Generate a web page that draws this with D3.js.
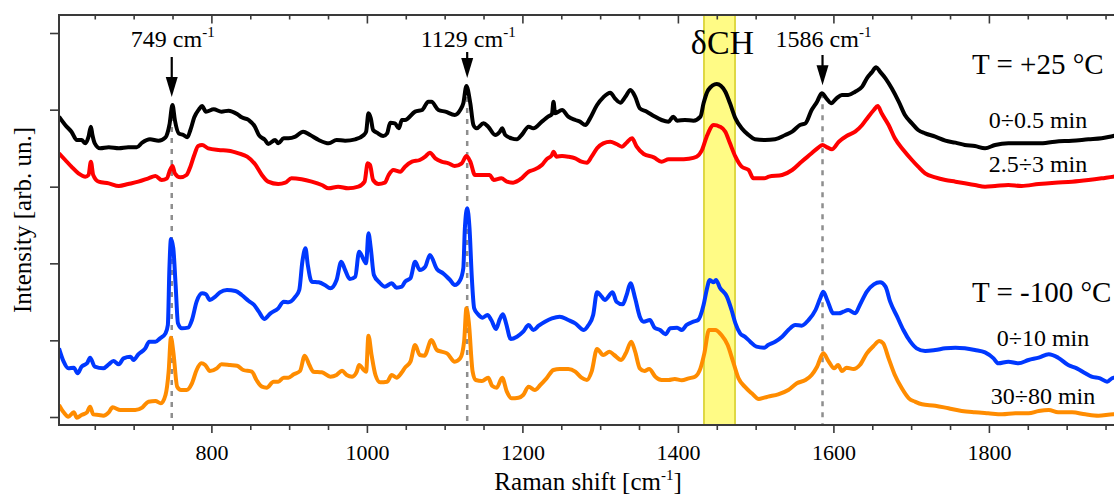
<!DOCTYPE html>
<html>
<head>
<meta charset="utf-8">
<script src="https://cdn.jsdelivr.net/npm/d3@7"></script>
<style>
  body { margin: 0; background: #fff; }
  svg { display: block; }
  text { font-family: "Liberation Serif", "Times New Roman", serif; fill: #000; }
</style>
</head>
<body>
<svg id="chart" width="1114" height="495"></svg>
<script>
// Raman spectra, [shift (cm-1), intensity (arb. units, vertically offset)]
// T = +25 °C, 0÷0.5 min
const rtEarly = [[604,901],[612,876],[620,856],[627,831],[633,831],[638,821],[642,841],[645,871],[647,846],[650,821],[657,806],[668,809],[681,806],[693,809],[704,809],[711,823],[721,833],[732,829],[741,839],[746,876],[750,936],[753,891],[758,851],[764,846],[769,839],[773,861],[778,899],[784,923],[788,933],[793,916],[803,923],[813,916],[822,919],[833,909],[839,899],[848,891],[856,871],[861,846],[869,831],[873,819],[882,831],[886,821],[893,836],[899,836],[908,841],[918,856],[927,846],[938,831],[951,821],[961,831],[972,829],[985,833],[996,846],[999,856],[1002,911],[1005,896],[1008,861],[1013,853],[1021,843],[1026,851],[1030,883],[1036,881],[1041,866],[1045,891],
  [1049,891],[1062,916],[1071,921],[1079,946],[1083,946],[1092,921],[1101,916],[1113,906],[1120,921],[1124,941],[1128,993],[1133,941],[1137,876],[1141,866],[1150,881],[1156,871],[1165,846],[1171,856],[1174,866],[1178,846],[1186,836],[1193,833],[1199,846],[1208,871],[1214,866],[1225,886],[1233,901],[1238,909],[1240,946],[1242,911],[1251,921],[1259,901],[1268,891],[1274,886],[1281,876],[1287,896],[1296,936],[1304,959],[1313,973],[1319,956],[1326,943],[1332,959],[1339,981],[1345,961],[1351,926],[1360,916],[1369,903],[1379,891],[1388,886],[1394,901],[1399,889],[1409,891],[1420,889],[1429,901],[1433,941],[1439,981],[1450,999],[1461,976],[1467,941],[1474,896],[1482,866],[1491,846],[1499,833],
  [1512,831],[1525,833],[1538,846],[1547,856],[1557,876],[1564,881],[1572,921],[1579,946],[1585,971],[1592,953],[1597,941],[1604,956],[1611,966],[1619,966],[1628,976],[1637,991],[1643,1016],[1649,1033],[1655,1049],[1660,1036],[1667,1016],[1675,986],[1684,946],[1692,906],[1701,881],[1709,861],[1718,851],[1731,841],[1744,829],[1757,823],[1769,816],[1782,813],[1795,806],[1808,816],[1825,821],[1842,821],[1864,821],[1885,826],[1907,829],[1928,833],[1945,836],[1960,843],[1965,845]];

// T = +25 °C, 2.5÷3 min
const rtLate = [[604,791],[612,771],[620,751],[629,731],[638,721],[642,726],[645,766],[648,726],[655,706],[668,701],[681,693],[693,699],[706,706],[719,716],[728,723],[736,711],[743,716],[746,736],[750,753],[753,731],[760,719],[768,726],[773,751],[778,786],[783,813],[788,816],[796,806],[809,801],[822,799],[835,791],[846,781],[856,759],[865,726],[873,706],[886,699],[895,703],[903,716],[916,713],[929,706],[942,696],[951,686],[963,691],[976,686],[989,691],[997,706],[1001,761],[1004,756],[1008,711],[1015,699],[1023,703],[1028,726],[1034,741],[1043,736],
  [1049,751],[1058,766],[1068,771],[1075,781],[1081,793],[1088,776],[1096,766],[1105,761],[1113,753],[1122,761],[1128,783],[1133,766],[1139,726],[1150,726],[1158,726],[1163,711],[1173,716],[1180,706],[1188,703],[1199,716],[1208,736],[1214,741],[1225,756],[1231,773],[1238,786],[1240,796],[1244,781],[1251,783],[1259,781],[1268,776],[1276,766],[1283,763],[1289,781],[1296,806],[1304,821],[1313,826],[1321,819],[1328,811],[1334,823],[1341,836],[1347,811],[1356,789],[1369,779],[1379,766],[1388,773],[1401,773],[1414,775],[1424,781],[1431,801],[1437,841],[1446,876],[1454,871],[1461,856],[1467,821],[1474,781],[1482,751],[1491,741],[1497,716],[1511,716],
  [1517,721],[1534,726],[1547,741],[1559,766],[1572,791],[1581,809],[1586,816],[1592,809],[1598,803],[1607,826],[1617,843],[1628,856],[1637,876],[1645,901],[1652,921],[1657,933],[1662,911],[1671,876],[1679,836],[1690,801],[1701,771],[1709,751],[1718,731],[1731,719],[1744,711],[1757,706],[1769,701],[1782,696],[1795,691],[1808,693],[1825,696],[1842,693],[1864,699],[1885,703],[1907,706],[1928,711],[1945,716],[1960,721],[1965,722]];

// T = -100 °C, 0÷10 min
const coldEarly = [[604,206],[610,166],[616,146],[623,148],[628,131],[633,151],[640,161],[644,178],[650,151],[661,146],[668,158],[674,168],[681,158],[687,176],[696,181],[700,171],[706,188],[715,206],[720,226],[728,226],[734,236],[741,251],[744,276],[746,446],[748,534],[751,506],[754,396],[757,281],[762,266],[770,268],[775,291],[781,346],[788,371],[793,368],[798,351],[805,361],[811,374],[820,381],[831,378],[839,366],[848,348],[855,336],[861,316],[868,294],[876,311],[886,326],[893,346],[899,344],[908,361],[913,381],[917,466],[921,506],[924,456],[929,406],[938,404],[946,396],[953,386],[961,411],[967,466],[972,441],[978,414],[985,421],[990,496],[996,471],[999,461],[1002,551],[1005,506],[1009,426],[1016,404],[1023,391],[1032,401],[1038,388],[1045,391],
  [1049,406],[1056,416],[1062,466],[1068,441],[1075,451],[1081,486],[1090,444],[1098,431],[1107,411],[1113,396],[1120,411],[1124,446],[1126,566],[1129,626],[1132,566],[1135,416],[1138,326],[1143,308],[1149,298],[1155,306],[1160,291],[1166,264],[1171,294],[1175,308],[1179,281],[1185,234],[1193,241],[1201,256],[1208,276],[1214,261],[1221,274],[1229,286],[1238,296],[1248,301],[1259,291],[1268,281],[1279,261],[1285,276],[1291,306],[1296,374],[1302,361],[1306,351],[1316,374],[1321,346],[1329,338],[1334,366],[1339,401],[1345,356],[1351,301],[1356,286],[1364,291],[1370,268],[1377,261],[1384,248],[1390,266],[1399,268],[1405,261],[1411,276],[1420,286],[1426,291],[1433,336],[1437,381],[1441,411],[1446,404],[1449,411],[1454,388],[1463,361],[1469,321],[1474,281],[1480,251],[1486,241],[1493,226],[1501,211],[1511,208],
  [1516,216],[1525,226],[1534,241],[1542,261],[1551,276],[1559,274],[1568,291],[1577,321],[1583,356],[1587,376],[1592,351],[1600,311],[1607,311],[1613,316],[1619,321],[1628,311],[1634,336],[1643,376],[1652,398],[1660,404],[1667,391],[1673,346],[1682,301],[1690,261],[1699,226],[1707,206],[1718,198],[1731,201],[1744,206],[1757,208],[1769,206],[1782,201],[1795,194],[1806,176],[1812,161],[1825,166],[1838,161],[1851,171],[1864,178],[1877,188],[1889,178],[1902,156],[1913,146],[1924,131],[1932,121],[1943,116],[1952,106],[1960,118],[1965,118]];

// T = -100 °C, 30÷80 min
const coldLate = [[604,36],[610,14],[616,1],[623,14],[627,-2],[633,6],[640,14],[644,31],[648,8],[655,6],[661,4],[668,14],[673,29],[683,21],[691,21],[702,21],[711,28],[719,46],[728,48],[735,41],[741,66],[745,136],[748,238],[751,196],[756,91],[761,81],[768,81],[775,101],[781,141],[787,161],[792,156],[798,138],[807,146],[813,158],[824,156],[833,154],[841,141],[852,136],[858,111],[865,91],[871,88],[880,106],[886,106],[893,118],[899,118],[906,128],[914,138],[920,184],[926,156],[931,136],[942,134],[953,121],[961,126],[968,139],[974,126],[981,121],[987,136],[990,156],[996,141],[999,136],[1002,244],[1006,186],[1011,126],[1017,104],[1026,106],[1032,126],[1038,118],[1045,134],
  [1049,148],[1056,166],[1062,216],[1068,186],[1074,184],[1083,231],[1090,201],[1096,196],[1103,191],[1113,166],[1120,176],[1125,226],[1128,326],[1131,286],[1136,136],[1140,111],[1148,108],[1156,118],[1161,94],[1167,88],[1174,118],[1180,76],[1186,56],[1195,58],[1201,66],[1208,91],[1216,81],[1223,96],[1231,116],[1240,141],[1248,144],[1259,144],[1268,136],[1276,118],[1283,111],[1289,136],[1296,204],[1304,186],[1312,196],[1318,186],[1327,171],[1333,191],[1340,226],[1345,196],[1351,146],[1357,138],[1363,144],[1371,121],[1379,111],[1388,111],[1396,114],[1405,110],[1414,116],[1422,121],[1429,146],[1434,191],[1440,261],[1448,261],[1456,246],[1464,216],[1471,166],[1478,116],[1486,91],[1495,71],[1504,54],[1511,58],
  [1516,61],[1529,68],[1542,81],[1553,101],[1564,111],[1572,126],[1579,151],[1587,191],[1594,166],[1601,146],[1606,156],[1611,138],[1617,148],[1626,144],[1634,156],[1643,191],[1652,214],[1659,228],[1664,221],[1671,176],[1679,126],[1688,86],[1697,56],[1705,46],[1714,38],[1731,34],[1748,26],[1765,18],[1782,14],[1799,11],[1817,8],[1834,11],[1851,11],[1864,18],[1877,21],[1889,14],[1907,14],[1924,8],[1941,4],[1960,8],[1965,8]];

const seriesColors = ["#ff8c00", "#0038ff", "#ff0000", "#000000"];
const seriesNames = ["30÷80 min", "0÷10 min", "2.5÷3 min", "0÷0.5 min"];

// Axis ticks and marked bands
const xMajorTicks = [800, 1000, 1200, 1400, 1600, 1800];
const xMinorTicks = [650, 700, 750, 850, 900, 950, 1050, 1100, 1150, 1250, 1300, 1350, 1450, 1500, 1550, 1650, 1700, 1750, 1850, 1900, 1950];
const yTicks = [0, 230, 461, 691, 922, 1152];
const peakShifts = [749, 1129, 1586];
const peakLabels = ["749", "1129", "1586"];
const peakArrowTop = [57, 52, 55];
const deltaCHBand = [1433.5, 1473.5];

const svg = d3.select("#chart");
const plot = { left: 59, top: 15, bottom: 425, right: 1117.2 };

const x = d3.scaleLinear().domain([604, 1965]).range([plot.left, plot.right]);
const y = d3.scaleLinear().domain([-24, 1206]).range([plot.bottom, plot.top]);

svg.append("defs").append("clipPath").attr("id", "plotClip")
  .append("rect").attr("x", plot.left).attr("y", plot.top)
  .attr("width", plot.right - plot.left).attr("height", plot.bottom - plot.top);

// δCH band
svg.append("rect")
  .attr("x", x(deltaCHBand[0])).attr("y", plot.top)
  .attr("width", x(deltaCHBand[1]) - x(deltaCHBand[0]))
  .attr("height", plot.bottom - plot.top)
  .attr("fill", "#fffb85").attr("stroke", "#d4cc20").attr("stroke-width", 1.5);

// dashed guides under the marked peaks
const peakTop = s => {
  const p = rtEarly.reduce((a, b) => Math.abs(b[0] - s) < Math.abs(a[0] - s) ? b : a);
  return p[1];
};
svg.append("g").selectAll("line").data(peakShifts).join("line")
  .attr("x1", d => x(d)).attr("x2", d => x(d))
  .attr("y1", d => y(peakTop(d))).attr("y2", plot.bottom)
  .attr("stroke", "#8e8e8e").attr("stroke-width", 2.5)
  .attr("stroke-dasharray", "5,6");

// spectra
const line = d3.line().x(d => x(d[0])).y(d => y(d[1])).curve(d3.curveMonotoneX);
const spectra = [coldLate, coldEarly, rtLate, rtEarly];
svg.append("g").attr("clip-path", "url(#plotClip)")
  .selectAll("path").data(spectra).join("path")
  .attr("d", line)
  .attr("fill", "none")
  .attr("stroke", (d, i) => seriesColors[i])
  .attr("stroke-width", 4)
  .attr("stroke-linejoin", "round");

// axes
const axisColor = "#3a3a3a";
const styleAxis = g => {
  g.select(".domain").remove();
  g.selectAll("line").attr("stroke", axisColor).attr("stroke-width", 1.6);
};
svg.append("g").attr("transform", `translate(0,${plot.bottom})`)
  .call(d3.axisBottom(x).tickValues(xMinorTicks).tickSize(5).tickFormat(""))
  .call(styleAxis);
svg.append("g").attr("transform", `translate(0,${plot.bottom})`)
  .call(d3.axisBottom(x).tickValues(xMajorTicks).tickSize(8).tickFormat(d3.format("d")))
  .call(styleAxis)
  .call(g => g.selectAll("text")
    .attr("y", 35).attr("dy", 0)
    .attr("font-size", 22)
    .attr("font-family", "Liberation Serif, Times New Roman, serif")
    .attr("fill", "#000"));
// top axis: ticks pointing inward
svg.append("g").attr("transform", `translate(0,${plot.top})`)
  .call(d3.axisBottom(x).tickValues(xMinorTicks).tickSize(4.5).tickFormat(""))
  .call(styleAxis);
svg.append("g").attr("transform", `translate(0,${plot.top})`)
  .call(d3.axisBottom(x).tickValues(xMajorTicks).tickSize(8.5).tickFormat(""))
  .call(styleAxis);
svg.append("g").attr("transform", `translate(${plot.left},0)`)
  .call(d3.axisLeft(y).tickValues(yTicks).tickSize(9).tickFormat(""))
  .call(styleAxis);

// frame
svg.append("path")
  .attr("d", `M${plot.right},${plot.top}H${plot.left}V${plot.bottom}H${plot.right}`)
  .attr("fill", "none").attr("stroke", axisColor).attr("stroke-width", 2);

// axis titles
const xt = svg.append("text")
  .attr("x", (plot.left + plot.right) / 2).attr("y", 490)
  .attr("text-anchor", "middle").attr("font-size", 25)
  .text("Raman shift [cm");
xt.append("tspan").attr("font-size", 15).attr("dy", -10).text("-1");
xt.append("tspan").attr("dy", 10).text("]");

svg.append("text")
  .attr("transform", `translate(31,${(plot.top + plot.bottom) / 2}) rotate(-90)`)
  .attr("text-anchor", "middle").attr("font-size", 25)
  .text("Intensity [arb. un.]");

// peak arrows and labels
peakShifts.forEach((s, i) => {
  const px = x(s);
  const tip = y(peakTop(s)) - 8;
  const headLen = 20, headHalf = 6;
  svg.append("line")
    .attr("x1", px).attr("x2", px)
    .attr("y1", peakArrowTop[i]).attr("y2", tip - headLen + 2)
    .attr("stroke", "#000").attr("stroke-width", 2.2);
  svg.append("path")
    .attr("d", `M${px - headHalf},${tip - headLen}L${px + headHalf},${tip - headLen}L${px},${tip}Z`)
    .attr("fill", "#000");
  const t = svg.append("text")
    .attr("x", px + 1).attr("y", 47)
    .attr("text-anchor", "middle").attr("font-size", 24)
    .text(peakLabels[i] + " cm");
  t.append("tspan").attr("font-size", 15).attr("dy", -10).text("-1");
});

// δCH label
svg.append("text")
  .attr("x", x((deltaCHBand[0] + deltaCHBand[1]) / 2) + 3).attr("y", 54)
  .attr("text-anchor", "middle").attr("font-size", 34)
  .text("δCH");

// temperature and time labels
svg.append("text").attr("x", 972).attr("y", 74).attr("font-size", 29).text("T = +25 °C");
svg.append("text").attr("x", 972).attr("y", 302).attr("font-size", 29).text("T = -100 °C");
const timeLabelPos = [[1043, 404], [1043, 346], [1038, 172], [1038, 128]];
seriesNames.forEach((n, i) => {
  svg.append("text")
    .attr("x", timeLabelPos[i][0]).attr("y", timeLabelPos[i][1])
    .attr("text-anchor", "middle").attr("font-size", 24)
    .text(n);
});
</script>
</body>
</html>
